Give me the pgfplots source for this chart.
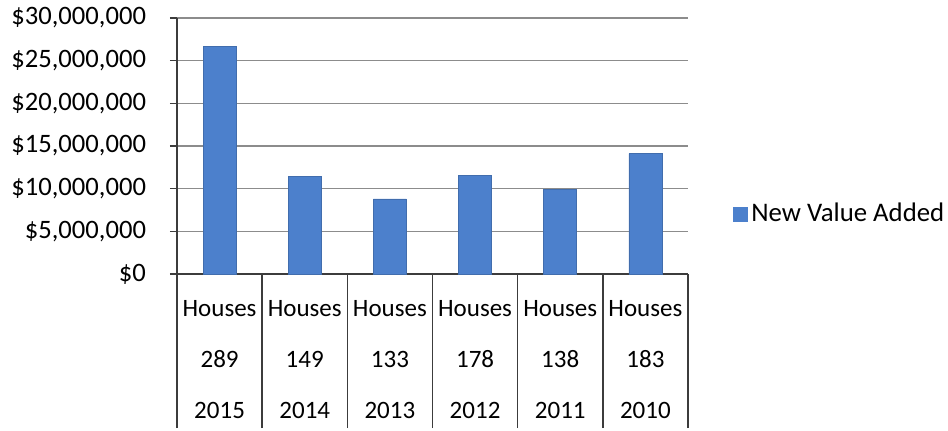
\documentclass[border=0pt]{standalone}
\usepackage{pgfplots}
\pgfplotsset{compat=1.18}
\usepackage{fontspec}
\setmainfont{Carlito}

\definecolor{barblue}{RGB}{76,128,204}
\definecolor{gridgray}{RGB}{140,140,140}
\definecolor{axisgray}{RGB}{60,60,60}

\begin{document}
\begin{tikzpicture}
    \useasboundingbox (0,0) rectangle (474pt,215pt);
    \begin{axis}[
        at                 = {(88.5pt,78pt)},
        anchor             = south west,
        scale only axis,
        width              = 255.5pt,
        height             = 128pt,
        font               = \fontsize{12.5}{14}\selectfont,
        xmin               = -0.5,
        xmax               = 5.5,
        ymin               = 0,
        ymax               = 30000000,
        axis x line*       = bottom,
        axis y line*       = left,
        axis line style    = {draw=axisgray, line width=0.7pt},
        ytick              = {0,5000000,10000000,15000000,20000000,25000000,30000000},
        yticklabels        = {{\$0},{\$5,000,000},{\$10,000,000},{\$15,000,000},
                              {\$20,000,000},{\$25,000,000},{\$30,000,000}},
        scaled y ticks     = false,
        ymajorgrids,
        grid style         = {draw=gridgray, line width=0.6pt},
        ytick style        = {draw=axisgray, line width=0.6pt},
        tick align         = outside,
        major tick length  = 3.5pt,
        yticklabel style   = {xshift=-8.5pt, font=\fontsize{13.3}{15}\selectfont},
        xtick              = {0,1,2,3,4,5},
        xticklabels        = {Houses\\289\\2015, Houses\\149\\2014, Houses\\133\\2013,
                              Houses\\178\\2012, Houses\\138\\2011, Houses\\183\\2010},
        xticklabel style   = {align=center, font=\fontsize{12.5}{25.5}\selectfont, yshift=-6pt},
        xtick style        = {draw=none},
        extra x ticks      = {-0.5,0.5,1.5,2.5,3.5,4.5,5.5},
        extra x tick labels = {},
        extra x tick style = {grid=none, major tick length=77pt,
                              xtick style={draw=axisgray, line width=0.7pt}},
        ybar,
        bar width          = 16.5pt,
        legend style       = {at={(axis description cs:1.075,0.234)}, anchor=west,
                              draw=none, fill=none, font=\fontsize{13.4}{15}\selectfont},
        legend image code/.code = {\fill[barblue] (0pt,-3.5pt) rectangle (7pt,3.5pt);}]

        \addplot[fill=barblue, draw=barblue!85!black, line width=0.3pt]
            coordinates {
                (0,26700000)
                (1,11400000)
                (2,8800000)
                (3,11600000)
                (4,9900000)
                (5,14100000)
            };
        \addlegendentry{New Value Added}
    \end{axis}
\end{tikzpicture}
\end{document}
